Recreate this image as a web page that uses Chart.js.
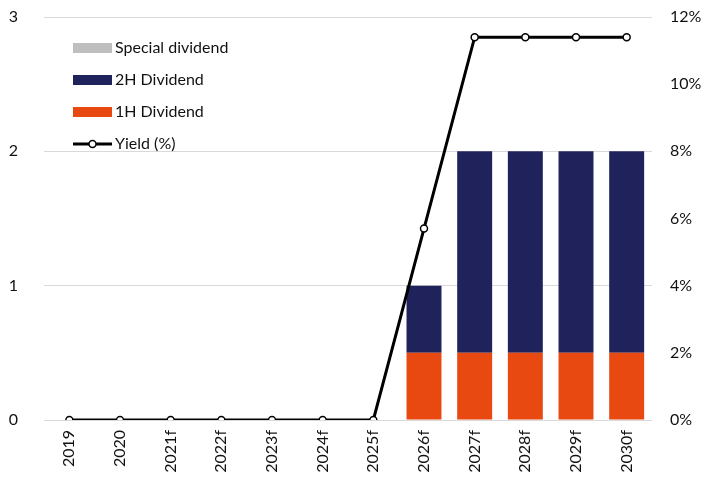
<!DOCTYPE html>
<html>
<head>
<meta charset="utf-8">
<script src="https://cdn.jsdelivr.net/npm/chart.js@4"></script>
<style>
  html, body { margin: 0; padding: 0; background: #fff; }
  #wrap { width: 719px; height: 477px; }
</style>
</head>
<body>
<div id="wrap"><canvas id="c" width="719" height="477"></canvas></div>
<script>
// Dividend per share by half-year, plus forecast yield
const categories = ['2019', '2020', '2021f', '2022f', '2023f', '2024f', '2025f', '2026f', '2027f', '2028f', '2029f', '2030f'];
const firstHalf   = [0, 0, 0, 0, 0, 0, 0, 0.5, 0.5, 0.5, 0.5, 0.5];
const secondHalf  = [0, 0, 0, 0, 0, 0, 0, 0.5, 1.5, 1.5, 1.5, 1.5];
const special     = [0, 0, 0, 0, 0, 0, 0, 0, 0, 0, 0, 0];
const yieldPct    = [0, 0, 0, 0, 0, 0, 0, 5.7, 11.4, 11.4, 11.4, 11.4];
const leftTicks   = [0, 1, 2, 3];
const rightTicks  = [0, 2, 4, 6, 8, 10, 12];

const FONT = 'Lato, "Open Sans", sans-serif';
const TEXT = '#111';

// Vertical legend drawn inside the plot area, top-left
const insideLegend = {
  id: 'insideLegend',
  afterDraw(chart) {
    const ctx = chart.ctx;
    const a = chart.chartArea;
    const order = [2, 1, 0, 3];
    const x0 = a.left + 29, w = 39, step = 32;
    let y = a.top + 31;
    ctx.save();
    ctx.font = '16px ' + FONT;
    ctx.textBaseline = 'middle';
    ctx.fillStyle = TEXT;
    order.forEach(i => {
      const ds = chart.data.datasets[i];
      if (ds.type === 'line') {
        ctx.strokeStyle = ds.borderColor;
        ctx.lineWidth = 3;
        ctx.beginPath();
        ctx.moveTo(x0, y); ctx.lineTo(x0 + w, y);
        ctx.stroke();
        ctx.beginPath();
        ctx.arc(x0 + w / 2, y, 3.5, 0, Math.PI * 2);
        ctx.fillStyle = '#fff';
        ctx.fill();
        ctx.lineWidth = 1.5;
        ctx.stroke();
      } else {
        ctx.fillStyle = ds.backgroundColor;
        ctx.fillRect(x0, y - 5, w, 10);
      }
      ctx.fillStyle = TEXT;
      ctx.fillText(ds.label, x0 + w + 3, y);
      y += step;
    });
    ctx.restore();
  }
};

// Fixed axis sizes; drop the label overhang the scales add above and below
function fixWidth(w) {
  return s => { s.width = w; s.paddingTop = 0; s.paddingBottom = 0; };
}

new Chart(document.getElementById('c'), {
  type: 'bar',
  data: {
    labels: categories,
    datasets: [
      { label: '1H Dividend', data: firstHalf, backgroundColor: '#E84910', stack: 'd', yAxisID: 'y', order: 2 },
      { label: '2H Dividend', data: secondHalf, backgroundColor: '#20225C', stack: 'd', yAxisID: 'y', order: 2 },
      { label: 'Special dividend', data: special, backgroundColor: '#BFBFBF', stack: 'd', yAxisID: 'y', order: 2 },
      { label: 'Yield (%)', type: 'line', data: yieldPct, yAxisID: 'y2', order: 1,
        borderColor: '#000', borderWidth: 3, tension: 0,
        pointRadius: 3.5, pointBackgroundColor: '#fff', pointBorderColor: '#000', pointBorderWidth: 1.5 }
    ]
  },
  options: {
    responsive: false,
    animation: false,
    layout: { padding: { top: 17, left: 0, right: 0, bottom: 0 } },
    datasets: { bar: { barPercentage: 0.69, categoryPercentage: 1 } },
    plugins: { legend: { display: false }, tooltip: { enabled: false } },
    scales: {
      x: {
        stacked: true,
        grid: { display: false, drawTicks: false },
        border: { display: false },
        ticks: { color: TEXT, font: { family: FONT, size: 16 }, minRotation: 90, maxRotation: 90, padding: 10, autoSkip: false },
        afterFit(s) { s.height = 57; }
      },
      y: {
        stacked: true,
        position: 'left',
        min: 0, max: 3,
        afterBuildTicks(s) { s.ticks = leftTicks.map(v => ({ value: v })); },
        grid: { color: '#D9D9D9', lineWidth: 1, drawTicks: false },
        border: { display: false },
        ticks: { color: TEXT, font: { family: FONT, size: 16 }, padding: 26 },
        afterFit: fixWidth(44)
      },
      y2: {
        position: 'right',
        min: 0, max: 12,
        afterBuildTicks(s) { s.ticks = rightTicks.map(v => ({ value: v })); },
        grid: { display: false, drawTicks: false },
        border: { display: false },
        ticks: { color: TEXT, font: { family: FONT, size: 16 }, padding: 18, callback: v => v + '%' },
        afterFit: fixWidth(67)
      }
    }
  },
  plugins: [insideLegend]
});
</script>
</body>
</html>
